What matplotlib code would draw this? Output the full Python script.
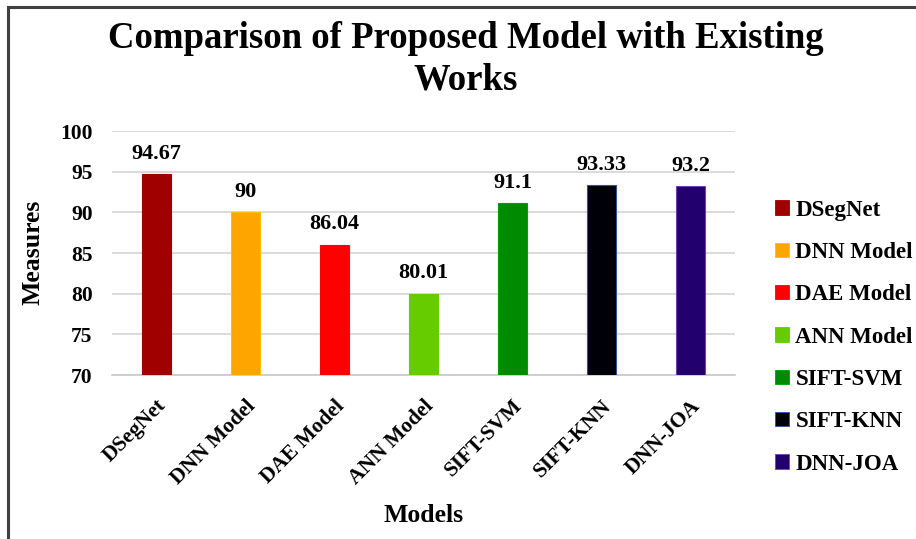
import matplotlib
matplotlib.use("Agg")
import matplotlib.pyplot as plt
from matplotlib.patches import Patch, Rectangle

models = ["DSegNet", "DNN Model", "DAE Model", "ANN Model", "SIFT-SVM", "SIFT-KNN", "DNN-JOA"]
values = [94.67, 90, 86.04, 80.01, 91.1, 93.33, 93.2]
labels = ["94.67", "90", "86.04", "80.01", "91.1", "93.33", "93.2"]
colors = ["#A00000", "#FFA500", "#FF0000", "#66CC00", "#008A00", "#000008", "#22006E"]
edges = ["#A00000", "#FFC000", "#FF0000", "#66CC00", "#00A000", "#3050A0", "#7040B0"]
yticks = [70, 75, 80, 85, 90, 95, 100]

plt.rcParams['font.family'] = ['Liberation Serif', 'DejaVu Serif']
plt.rcParams['font.weight'] = 'bold'

fig = plt.figure(figsize=(9.16, 5.39), dpi=100)
ax = fig.add_axes([112/916, 1-375/539, (735-112)/916, (375-131)/539])

x = list(range(len(models)))
ax.bar(x, [v - 70 for v in values], bottom=70, width=0.32, color=colors,
       edgecolor=edges, linewidth=0.8, zorder=3)
for xi, v, t in zip(x, values, labels):
    ax.annotate(t, (xi, v), xytext=(0, 7.5), textcoords='offset points',
                ha='center', va='bottom', fontsize=16, fontweight='bold')

ax.set_xlim(-0.5, len(models) - 0.5)
ax.set_ylim(70, 100)
ax.set_yticks(yticks)
ax.yaxis.grid(True, color='#D4D4D4', linewidth=1.2, zorder=0)
ax.set_axisbelow(True)
for s in ['top', 'right', 'left']:
    ax.spines[s].set_visible(False)
ax.spines['bottom'].set_color('#C8C8C8')
ax.spines['bottom'].set_linewidth(1.2)
ax.tick_params(axis='y', length=0, labelsize=15.5, pad=14)
ax.tick_params(axis='x', length=0, labelsize=15.5, pad=15)
ax.set_xticks(x)
ax.set_xticklabels(models, rotation=45, ha='right', rotation_mode='anchor', fontweight='bold')
for lab in ax.get_yticklabels():
    lab.set_fontweight('bold')

fig.text(33/916, 1-252/539, "Measures", rotation=90, ha='center', va='center',
         fontsize=18.5, fontweight='bold')
fig.text(424/916, 1-516/539, "Models", ha='center', va='center',
         fontsize=18.5, fontweight='bold')
fig.text(466/916, 1-59/539, "Comparison of Proposed Model with Existing\nWorks",
         ha='center', va='center', fontsize=26.5, fontweight='bold', linespacing=1.25)

handles = [Patch(facecolor=c, edgecolor=e, linewidth=0.6) for c, e in zip(colors, edges)]
fig.legend(handles, models, loc='upper left', bbox_to_anchor=(766/916, 1-190.5/539),
           frameon=False, handlelength=0.6, handleheight=0.6,
           handletextpad=0.28, labelspacing=0.93, borderaxespad=0,
           prop={'family': 'Liberation Serif', 'weight': 'bold', 'size': 16.5})

fig.add_artist(Rectangle((8/916, -0.01), 1.02, 1 - 7/539 + 0.01, transform=fig.transFigure,
                         fill=False, edgecolor='#404040', linewidth=2.2))

fig.savefig("out.png", dpi=100)
